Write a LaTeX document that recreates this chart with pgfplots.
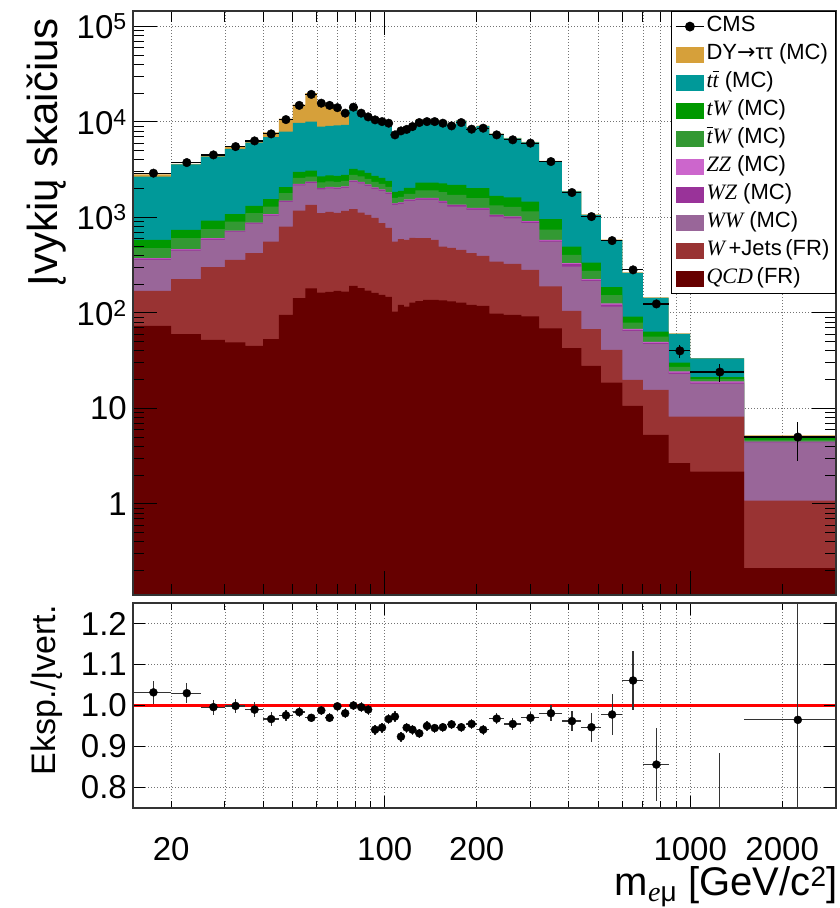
\documentclass[border=0pt]{standalone}
\usepackage{fontspec}
\setmainfont{Liberation Sans}
\newfontfamily\dejavu{DejaVu Sans}
\newfontfamily\tms{Liberation Serif}
\usepackage{pgfplots}
\usepackage{pgfplotstable}
\pgfplotsset{compat=1.18}
\newcommand\ti[1]{{\tms\itshape #1}}
\newcommand\tbar{{\tms\itshape t}\llap{\rule[0.70em]{0.30em}{0.055em}\kern-0.02em}}

\definecolor{cDY}{RGB}{214,160,58}
\definecolor{cTT}{RGB}{0,153,153}
\definecolor{cTW}{RGB}{0,153,0}
\definecolor{cTbW}{RGB}{51,153,51}
\definecolor{cZZ}{RGB}{204,102,204}
\definecolor{cWZ}{RGB}{153,51,153}
\definecolor{cWW}{RGB}{153,102,153}
\definecolor{cWJ}{RGB}{153,51,51}
\definecolor{cQCD}{RGB}{102,0,0}

\pgfplotsset{
  layers/gridbelow/.define layer set={axis background,axis grid,main,axis ticks,axis lines,axis tick labels,axis descriptions,axis foreground}{/pgfplots/layers/standard},
  hist/.style={fill=#1, draw=none, const plot mark left,
    legend image code/.code={\fill[#1] (0pt,-8pt) rectangle (28pt,8pt);}},
}

% cumulative stack levels (bin left edges; last row closes the last bin)
\pgfplotstableread{
x tot tt tw tbw zz wz ww wj qcd
15 2813 2675 581 476 374 370 359 170 73
20 3641 3600 740 606 465 460 449 225 60
25 4528 4335 926 752 606 600 581 301 52
30 5516 5215 1081 904 727 720 710 359 49
35 6384 6070 1319 1107 883 875 860 422 45
40 7746 6918 1552 1298 1081 1070 1045 558 53
45 10830 7912 2070 1792 1500 1485 1452 801 95
50 15130 9770 2995 2594 2243 2220 2163 1178 143
55 20010 10070 3091 2675 2372 2350 2280 1352 181
60 15890 8930 2687 2325 2037 2020 1965 1107 163
64 15350 9080 2754 2383 2085 2065 2013 1142 166
68 14120 9190 2720 2354 2061 2040 1988 1115 170
72 12580 9300 2786 2412 2112 2090 2037 1170 167
76.5 14260 13520 3220 2786 2440 2415 2354 1219 192
81.5 12390 11990 3105 2687 2354 2330 2271 1122 182
86 11390 11140 2924 2530 2216 2195 2137 1062 171
90.5 11160 10890 2720 2354 2061 2040 1988 988 162
95.5 10640 10370 2594 2243 1965 1945 1893 869 154
100.5 10020 9770 2412 2085 1828 1810 1762 776 147
105.5 7510 7420 1849 1600 1402 1390 1352 558 103
110.5 8710 8610 1893 1640 1436 1420 1384 591 121
115.5 8820 8720 2037 1762 1543 1525 1489 581 116
120.5 9490 9390 2037 1762 1543 1525 1489 610 128
126 10560 10450 2314 1922 1600 1580 1525 606 133
133.5 10600 10490 2314 1922 1600 1580 1525 606 137
141.5 10660 10550 2314 1922 1600 1580 1525 581 137
150 10230 10130 2271 1836 1489 1470 1419 495 135
160 9520 9420 2189 1725 1362 1345 1298 480 132
171 10390 10290 2189 1725 1362 1345 1298 457 128
185 8790 8700 2023 1592 1257 1240 1199 422 121
200 9130 9040 2023 1592 1257 1240 1199 395 118
220 7550 7470 1679 1339 1069 1055 1019 344 98
245 6800 6730 1620 1288 1024 1010 977 326 95
280 6180 6120 1463 1156 912 900 869 282 92
320 3910 3870 958 745 581 570 558 189 69
380 1890 1870 495 405 331 325 305 105 42.7
440 1076 1065 336 275 225 221 216 67.5 27.9
510 584 578 186 153 126 122 116 41 18.6
600 266 263 91.5 78.9 68 66.5 64.8 19.9 10.6
700 145 143.5 63.7 56.3 49.7 48.6 47.4 15.6 5.28
850 61 60.4 30.2 27.2 24.4 23.7 23 8.2 2.67
1000 33.6 33.3 21.2 20.2 19.2 18.6 18.1 8.2 2.18
1500 5.2 5.05 4.88 4.68 4.49 4.45 4.40 1.08 0.212
3000 5.2 5.05 4.88 4.68 4.49 4.45 4.40 1.08 0.212
}\stack

\pgfplotstableread{
x y ex ey
17.5 2904 2.5 54
22.5 3750 2.5 61
27.5 4510 2.5 67
32.5 5510 2.5 74
37.5 6320 2.5 80
42.5 7490 2.5 87
47.5 10570 2.5 103
52.5 14890 2.5 122
57.5 19410 2.5 139
62 15700 2 125
66 14890 2 122
70 14090 2 119
74.25 12340 2.25 111
79 14260 2.5 119
83.75 12340 2.25 111
88.25 11280 2.25 106
93 10500 2.5 102
98 10070 2.5 100
103 9690 2.5 98
108 7310 2.5 85
113 8050 2.5 90
118 8340 2.5 91
123.25 8930 2.75 94
129.75 9840 3.75 99
137.5 10070 4 100
145.75 10070 4.25 100
155 9690 5 98
165.5 9080 5.5 95
178 9840 7 99
192.5 8390 7.5 92
210 8590 10 93
232.5 7310 12.5 85
262.5 6490 17.5 81
300 5990 20 77
350 3840 30 62
410 1820 30 43
475 1019 35 32
555 571 45 24
650 282 50 17
775 124 75 11
925 40 75 6.3
1250 24 250 4.9
2250 5 750 2.2
}\data

\pgfplotstableread{
x r ex er
17.5 1.032 2.5 0.028
22.5 1.030 2.5 0.025
27.5 0.996 2.5 0.018
32.5 0.999 2.5 0.018
37.5 0.990 2.5 0.018
42.5 0.967 2.5 0.016
47.5 0.976 2.5 0.014
52.5 0.984 2.5 0.012
57.5 0.970 2.5 0.010
62 0.988 2 0.011
66 0.970 2 0.011
70 0.998 2 0.011
74.25 0.981 2.25 0.012
79 1.000 2.5 0.011
83.75 0.996 2.25 0.012
88.25 0.990 2.25 0.012
93 0.941 2.5 0.012
98 0.946 2.5 0.012
103 0.967 2.5 0.012
108 0.973 2.5 0.013
113 0.924 2.5 0.012
118 0.946 2.5 0.012
123.25 0.941 2.75 0.012
129.75 0.932 3.75 0.011
137.5 0.950 4 0.011
145.75 0.945 4.25 0.011
155 0.947 5 0.011
165.5 0.954 5.5 0.011
178 0.947 7 0.011
192.5 0.955 7.5 0.012
210 0.941 10 0.012
232.5 0.968 12.5 0.013
262.5 0.955 17.5 0.014
300 0.970 20 0.015
350 0.981 30 0.020
410 0.962 30 0.024
475 0.947 35 0.035
555 0.978 45 0.049
650 1.061 50 0.073
775 0.856 75 0.090
925 0.656 75 0.080
1250 0.714 250 0.170
2250 0.965 750 0.450
}\ratio

\begin{document}
\begin{tikzpicture}
\path (0pt,0pt) rectangle (840pt,908pt);
% ---------------- main panel ----------------
\begin{axis}[
  at={(133pt,313pt)}, anchor=south west, scale only axis,
  width=703pt, height=584pt,
  set layers=gridbelow,
  xmode=log, ymode=log, log origin=infty,
  xmin=15, xmax=3000, ymin=0.111, ymax=145000,
  xtick={100,1000}, xticklabels={},
  minor xtick={20,30,40,50,60,70,80,90,200,300,400,500,600,700,800,900,2000},
  ytick={1,10,100,1000,10000,100000},
  yticklabels={1,10,10\textsuperscript{2},10\textsuperscript{3},10\textsuperscript{4},10\textsuperscript{5}},
  minor ytick={0.2,0.3,0.4,0.5,0.6,0.7,0.8,0.9,2,3,4,5,6,7,8,9,20,30,40,50,60,70,80,90,200,300,400,500,600,700,800,900,2000,3000,4000,5000,6000,7000,8000,9000,20000,30000,40000,50000,60000,70000,80000,90000},
  xmajorgrids, xminorgrids, ymajorgrids,
  grid style={black!55, line width=0.8pt, dash pattern=on 1pt off 2pt},
  major tick length=24pt, minor tick length=11pt,
  tick style={black, line width=1pt},
  axis line style={black!80, line width=1.3pt},
  yticklabel style={font=\fontsize{33}{36}\selectfont, inner sep=0pt, xshift=-6pt},
  ylabel={Įvykių skaičius},
  every axis y label/.style={at={(axis description cs:-0.108,0.988)}, rotate=90, anchor=base east, inner sep=0pt, font=\fontsize{42}{48}\selectfont},
  legend cell align=left,
  legend style={at={(1,1)}, anchor=north east, draw=black, line width=1.2pt, fill=white,
    font=\fontsize{22}{26}\selectfont, inner xsep=4pt, inner ysep=3pt, row sep=4pt,
    nodes={inner sep=2pt, text height=15pt, text depth=5pt},
    /tikz/every even column/.append style={column sep=3pt}},
]
\addlegendimage{legend image code/.code={\draw[black,line width=1.3pt] (0pt,0pt)--(28pt,0pt); \fill[black] (14pt,0pt) circle (4.3pt);}}
\addlegendentry{CMS}
\addplot[hist=cDY] table[x=x,y=tot]{\stack} \closedcycle;
\addlegendentry{DY{\dejavu →}ττ (MC)}
\addplot[hist=cTT] table[x=x,y=tt]{\stack} \closedcycle;
\addlegendentry{\ti{t}\tbar{} (MC)}
\addplot[hist=cTW] table[x=x,y=tw]{\stack} \closedcycle;
\addlegendentry{\ti{tW} (MC)}
\addplot[hist=cTbW] table[x=x,y=tbw]{\stack} \closedcycle;
\addlegendentry{\tbar\ti{W} (MC)}
\addplot[hist=cZZ] table[x=x,y=zz]{\stack} \closedcycle;
\addlegendentry{\ti{ZZ} (MC)}
\addplot[hist=cWZ] table[x=x,y=wz]{\stack} \closedcycle;
\addlegendentry{\ti{WZ} (MC)}
\addplot[hist=cWW] table[x=x,y=ww]{\stack} \closedcycle;
\addlegendentry{\ti{WW} (MC)}
\addplot[hist=cWJ] table[x=x,y=wj]{\stack} \closedcycle;
\addlegendentry{\ti{W}\,+Jets\,(FR)}
\addplot[hist=cQCD] table[x=x,y=qcd]{\stack} \closedcycle;
\addlegendentry{\ti{QCD}\,(FR)}
\addplot[only marks, mark=*, mark size=4.3pt, mark options={black, fill=black}, forget plot,
  error bars/.cd, x dir=both, x explicit, y dir=both, y explicit,
  error bar style={line width=1.2pt, black}, error mark=none]
  table[x=x, y=y, x error=ex, y error=ey]{\data};
\end{axis}
% ---------------- ratio panel ----------------
\begin{axis}[
  at={(133pt,100pt)}, anchor=south west, scale only axis,
  width=703pt, height=205pt,
  set layers=gridbelow,
  xmode=log, xmin=15, xmax=3000, ymin=0.75, ymax=1.25,
  xtick={100,1000}, xticklabels={100,1000},
  extra x ticks={20,200,2000}, extra x tick labels={20,200,2000},
  extra x tick style={grid=none, major tick length=7pt},
  minor xtick={20,30,40,50,60,70,80,90,200,300,400,500,600,700,800,900,2000},
  ytick={0.8,0.9,1.0,1.1,1.2}, yticklabels={0.8,0.9,1.0,1.1,1.2},
  xmajorgrids, xminorgrids, ymajorgrids,
  grid style={black!55, line width=0.8pt, dash pattern=on 1pt off 2pt},
  major tick length=12pt, minor tick length=7pt,
  tick style={black, line width=1pt},
  axis line style={black!80, line width=1.3pt},
  ticklabel style={font=\fontsize{33}{36}\selectfont, inner sep=0pt},
  xticklabel style={anchor=north, yshift=-29pt},
  yticklabel style={anchor=east, xshift=-6pt},
  xlabel={m\textsubscript{\ti{e}μ} [GeV/c\textsuperscript{2}]},
  every axis x label/.style={at={(axis description cs:1,0)}, anchor=south east, inner sep=0pt, xshift=2pt, yshift=-99.5pt, font=\fontsize{40}{46}\selectfont},
  ylabel={Eksp./Įvert.},
  every axis y label/.style={at={(axis description cs:-0.110,0.99)}, rotate=90, anchor=base east, inner sep=0pt, font=\fontsize{34}{40}\selectfont},
]
\addplot[red, line width=2.2pt, forget plot] coordinates {(15,1) (3000,1)};
\addplot[only marks, mark=*, mark size=4pt, mark options={black, fill=black}, forget plot,
  error bars/.cd, x dir=both, x explicit, y dir=both, y explicit,
  error bar style={line width=1.2pt, black!80}, error mark=none]
  table[x=x, y=r, x error=ex, y error=er]{\ratio};
\end{axis}
\end{tikzpicture}
\end{document}
